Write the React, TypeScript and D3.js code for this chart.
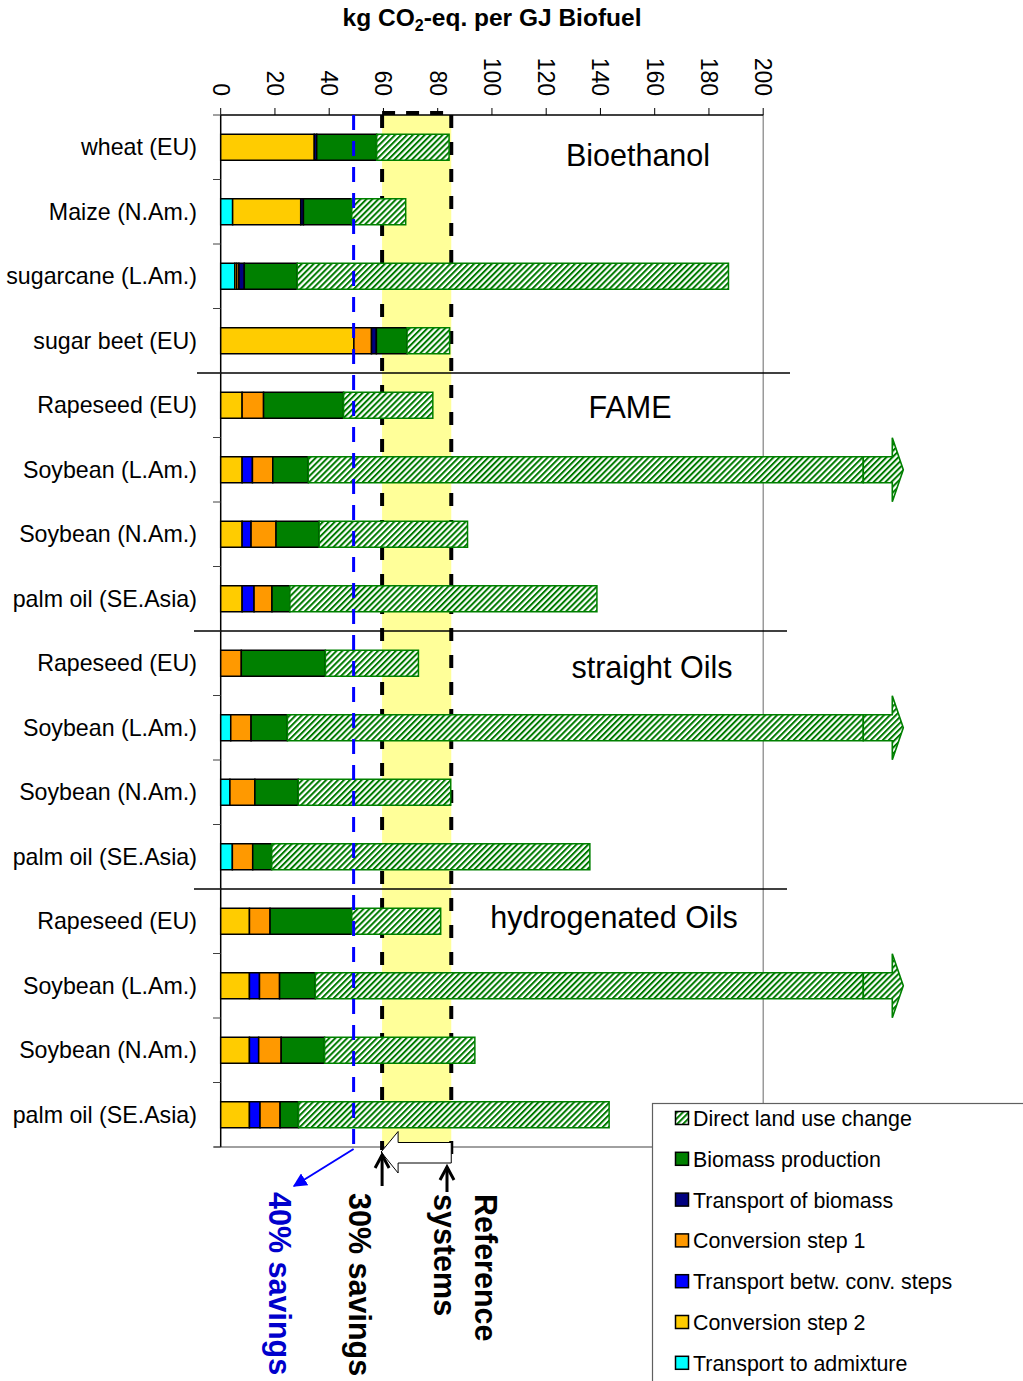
import React from "react";
import * as d3 from "d3";

// ---------- data ----------
const categories = [
  "wheat (EU)", "Maize (N.Am.)", "sugarcane (L.Am.)", "sugar beet (EU)",
  "Rapeseed (EU)", "Soybean (L.Am.)", "Soybean (N.Am.)", "palm oil (SE.Asia)",
  "Rapeseed (EU)", "Soybean (L.Am.)", "Soybean (N.Am.)", "palm oil (SE.Asia)",
  "Rapeseed (EU)", "Soybean (L.Am.)", "Soybean (N.Am.)", "palm oil (SE.Asia)",
];
const groups = ["Bioethanol", "FAME", "straight Oils", "hydrogenated Oils"];

// kg CO2-eq per GJ, per category
const transportAdmixture = [0, 4.4, 5.2, 0, 0, 0, 0, 0, 0, 3.7, 3.4, 4.3, 0, 0, 0, 0];
const conversionStep2 = [34.5, 25.1, 0.7, 49.1, 7.9, 7.9, 7.9, 7.9, 0, 0, 0, 0, 10.6, 10.6, 10.6, 10.6];
const transportBetwConv = [0, 0, 0, 0, 0, 3.8, 3.3, 4.4, 0, 0, 0, 0, 0, 3.7, 3.4, 3.9];
const conversionStep1 = [0, 0, 0.8, 6.5, 7.9, 7.5, 9.2, 6.6, 7.6, 7.5, 9.2, 7.5, 7.6, 7.4, 8.3, 7.4];
const transportBiomass = [0.9, 1.0, 2.0, 1.8, 0, 0, 0, 0, 0, 0, 0, 0, 0, 0, 0, 0];
const biomassProduction = [22.1, 17.8, 19.5, 11.3, 29.5, 13.1, 15.9, 6.6, 31.0, 13.4, 16.0, 7.0, 30.1, 13.2, 16.0, 6.8];
const directLandUseChange = [26.7, 19.9, 159.0, 15.7, 32.9, 204.6, 54.7, 113.2, 34.3, 212.3, 56.2, 117.3, 32.8, 202.0, 55.4, 114.5];
const offScale = [false, false, false, false, false, true, false, false, false, true, false, false, false, true, false, false];

const xTicks = [0, 20, 40, 60, 80, 100, 120, 140, 160, 180, 200];
const referenceValue = 85;
const savings30Value = 59.5;
const savings40Value = 49;

const seriesKeys = ["admix", "conv2", "transConv", "conv1", "transBio", "biomass", "dluc"];
const seriesColors: Record<string, string> = {
  admix: "#00FFFF",
  conv2: "#FFCC00",
  transConv: "#0000FF",
  conv1: "#FF9900",
  transBio: "#000080",
  biomass: "#008000",
  dluc: "url(#hatch)",
};
const legendItems = [
  { key: "dluc", label: "Direct land use change" },
  { key: "biomass", label: "Biomass production" },
  { key: "transBio", label: "Transport of biomass" },
  { key: "conv1", label: "Conversion step 1" },
  { key: "transConv", label: "Transport betw. conv. steps" },
  { key: "conv2", label: "Conversion step 2" },
  { key: "admix", label: "Transport to admixture" },
];

// ---------- layout ----------
const W = 1023;
const H = 1381;
const FONT = "'Liberation Sans', Arial, Helvetica, sans-serif";
const TOP = 115;
const BOTTOM = 1147;
const groupLabelX = [638, 630, 652, 614];
const groupLabelDy = [8, 2, 4, -4];

export default function App() {
  const x = d3.scaleLinear().domain([0, 200]).range([220.7, 763.2]);
  const y = d3.scaleBand<number>().domain(d3.range(categories.length)).range([TOP, BOTTOM]);
  const barH = 26;

  const rows = categories.map((_, i) => ({
    admix: transportAdmixture[i],
    conv2: conversionStep2[i],
    transConv: transportBetwConv[i],
    conv1: conversionStep1[i],
    transBio: transportBiomass[i],
    biomass: biomassProduction[i],
    dluc: directLandUseChange[i],
  }));
  const stacked = d3.stack<any>().keys(seriesKeys)(rows);

  const cy = (i: number) => (y(i) as number) + y.bandwidth() / 2;
  const xRef = x(referenceValue);
  const x30 = x(savings30Value);
  const x40 = x(savings40Value);

  const boundaries = d3.range(categories.length + 1).map((i) => TOP + i * y.step());

  return (
    <svg width={W} height={H} style={{ position: "absolute", left: 0, top: 0, display: "block" }} fontFamily={FONT}>
      <defs>
        <pattern id="hatch" patternUnits="userSpaceOnUse" width={4.2} height={4.2} patternTransform="rotate(45)">
          <rect width={4.2} height={4.2} fill="#fff" />
          <rect width={2} height={4.2} fill="#007A00" />
        </pattern>
        <marker id="blueHead" viewBox="0 0 10 10" refX={9} refY={5} markerWidth={7} markerHeight={7} orient="auto">
          <path d="M0,0 L10,5 L0,10 z" fill="#0000FF" />
        </marker>
      </defs>
      <rect width={W} height={H} fill="#fff" />

      {/* title */}
      <text x={492} y={26} textAnchor="middle" fontSize={24.5} fontWeight="bold" fill="#000">
        kg CO<tspan fontSize={16} dy={5}>2</tspan><tspan dy={-5}>-eq. per GJ Biofuel</tspan>
      </text>

      {/* reference band */}
      <rect x={x30} y={TOP} width={xRef - x30} height={BOTTOM - TOP} fill="#FFFF99" />

      {/* right gridline */}
      <line x1={x(200)} x2={x(200)} y1={TOP} y2={1103} stroke="#808080" strokeWidth={1.2} />

      {/* x axis on top */}
      <line x1={x(0)} x2={x(200)} y1={TOP} y2={TOP} stroke="#000" strokeWidth={1.5} />
      {xTicks.map((t) => (
        <g key={t}>
          <line x1={x(t)} x2={x(t)} y1={TOP - 7} y2={TOP} stroke="#000" strokeWidth={1} />
          <text
            transform={`translate(${x(t)},96) rotate(90)`}
            textAnchor="end"
            dominantBaseline="central"
            fontSize={23}
            fill="#000"
          >
            {t}
          </text>
        </g>
      ))}

      {/* bottom axis line */}
      <line x1={214} x2={652} y1={BOTTOM} y2={BOTTOM} stroke="#808080" strokeWidth={1.5} />

      {/* black dashed savings/reference lines (behind bars) */}
      <line x1={x30} x2={x30} y1={TOP} y2={1150} stroke="#000" strokeWidth={4} strokeDasharray="13 14" />
      <line x1={xRef} x2={xRef} y1={TOP} y2={1165} stroke="#000" strokeWidth={4} strokeDasharray="13 14" />
      <line x1={x30} x2={xRef} y1={TOP - 2} y2={TOP - 2} stroke="#000" strokeWidth={4} strokeDasharray="13 11" />

      {/* group separators */}
      {[4, 8, 12].map((g, k) => (
        <line key={g} x1={k === 0 ? 197 : 194} x2={k === 0 ? 790 : 787} y1={boundaries[g]} y2={boundaries[g]} stroke="#000" strokeWidth={1.6} />
      ))}

      {/* left axis */}
      <line x1={x(0)} x2={x(0)} y1={TOP} y2={BOTTOM} stroke="#000" strokeWidth={1.5} />
      {boundaries.map((b, i) => (
        <line key={i} x1={213} x2={x(0)} y1={b} y2={b} stroke="#404040" strokeWidth={1} />
      ))}

      {/* bars */}
      {stacked.map((s) => (
        <g key={s.key}>
          {s.map((d, i) => {
            const w = x(d[1]) - x(d[0]);
            if (w <= 0) return null;
            const hatched = s.key === "dluc";
            return (
              <rect
                key={i}
                x={x(d[0])}
                y={cy(i) - barH / 2}
                width={w}
                height={barH}
                fill={seriesColors[s.key]}
                stroke={hatched ? "#008000" : "#000"}
                strokeWidth={1.5}
              />
            );
          })}
        </g>
      ))}

      {/* off-scale arrows */}
      {stacked[stacked.length - 1].map((d, i) => {
        if (!offScale[i]) return null;
        const x0 = x(d[1]);
        const c = cy(i);
        const t = c - barH / 2;
        const b = c + barH / 2;
        const pts = [
          [x0, t], [x0 + 29, t], [x0 + 29, c - 32], [x0 + 40, c], [x0 + 29, c + 32], [x0 + 29, b], [x0, b],
        ];
        return (
          <polygon key={i} points={pts.map((p) => p.join(",")).join(" ")} fill="url(#hatch)" stroke="#008000" strokeWidth={1.6} />
        );
      })}

      {/* blue 40% line on top */}
      <line x1={x40} x2={x40} y1={TOP} y2={1148} stroke="#0000FF" strokeWidth={3} strokeDasharray="15 11" />
      <line x1={x40} y1={1149} x2={294} y2={1186} stroke="#0000FF" strokeWidth={2} markerEnd="url(#blueHead)" />

      {/* category labels */}
      {categories.map((c, i) => (
        <text key={i} x={197} y={cy(i)} textAnchor="end" dominantBaseline="central" fontSize={23.2} fill="#000">
          {c}
        </text>
      ))}

      {/* group labels */}
      {groups.map((g, k) => (
        <text key={g} x={groupLabelX[k]} y={cy(k * 4) + groupLabelDy[k]} textAnchor="middle" dominantBaseline="central" fontSize={30.5} fill="#000">
          {g}
        </text>
      ))}

      {/* white block arrow between reference and 30% */}
      <polygon
        points={`${x30 - 1},1152 ${x30 + 16},1131.5 ${x30 + 16},1142.5 ${xRef},1142.5 ${xRef},1163 ${x30 + 16},1163 ${x30 + 16},1173`}
        fill="#fff"
        stroke="#000"
        strokeWidth={1}
      />

      {/* black small arrows */}
      <g stroke="#000" strokeWidth={3} fill="none">
        <line x1={x30} x2={x30} y1={1155} y2={1186} />
        <polyline points={`${x30 - 7},1168 ${x30},1155 ${x30 + 7},1168`} />
        <line x1={447} x2={447} y1={1167} y2={1192} />
        <polyline points={`440,1180 447,1167 454,1180`} />
      </g>

      {/* rotated annotation texts */}
      <text transform="translate(280,1192) rotate(90)" dominantBaseline="central" fontSize={30.5} fontWeight="bold" fill="#0000CC">
        40% savings
      </text>
      <text transform="translate(360,1193) rotate(90)" dominantBaseline="central" fontSize={30.5} fontWeight="bold" fill="#000">
        30% savings
      </text>
      <text transform="translate(445,1194) rotate(90)" dominantBaseline="central" fontSize={30.5} fontWeight="bold" fill="#000">
        systems
      </text>
      <text transform="translate(486,1194) rotate(90)" dominantBaseline="central" fontSize={30.5} fontWeight="bold" fill="#000">
        Reference
      </text>

      {/* legend */}
      <rect x={652.5} y={1103.5} width={400} height={300} fill="#fff" stroke="#606060" strokeWidth={1.2} />
      {legendItems.map((it, k) => {
        const ly = 1119 + k * 40.8;
        return (
          <g key={it.key}>
            <rect x={675.5} y={ly - 7.5} width={13} height={13} fill={seriesColors[it.key]} stroke="#000" strokeWidth={1.5} />
            <text x={693} y={ly} dominantBaseline="central" fontSize={21.4} fill="#000">
              {it.label}
            </text>
          </g>
        );
      })}
    </svg>
  );
}
